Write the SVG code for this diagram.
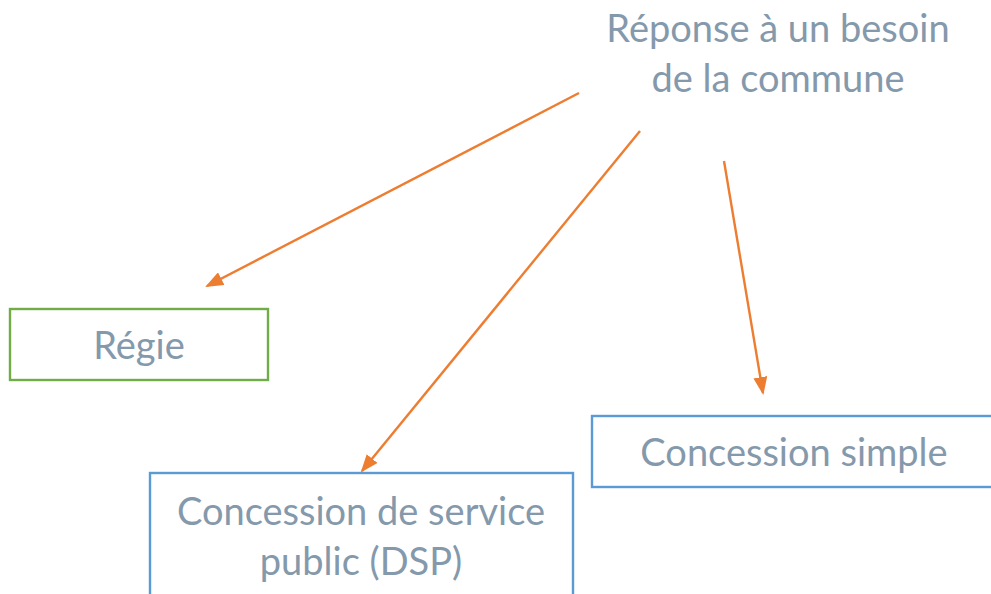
<svg xmlns="http://www.w3.org/2000/svg" width="991" height="594" viewBox="0 0 991 594">
  <style>
    .lbl { font-family: Lato, "Open Sans", "Liberation Sans", sans-serif; font-size: 38px; fill: #8499AB; text-anchor: middle; }
    .box { fill: #FFFFFF; stroke-width: 2.4; }
    .green { stroke: #70AD47; }
    .blue { stroke: #5B9BD5; }
    .link { stroke: #ED7D31; stroke-width: 2.4; fill: none; marker-end: url(#head); }
  </style>
  <defs>
    <marker id="head" viewBox="0 0 18 14" refX="16" refY="7" markerWidth="18" markerHeight="14" markerUnits="userSpaceOnUse" orient="auto">
      <path d="M0,0 L18,7 L0,14 z" fill="#ED7D31"/>
    </marker>
  </defs>
  <rect width="991" height="594" fill="#FFFFFF"/>

  <g id="source">
    <text class="lbl" x="778" y="42">Réponse à un besoin</text>
    <text class="lbl" x="778" y="92">de la commune</text>
  </g>

  <g id="regie">
    <rect class="box green" x="10" y="309" width="258" height="71"/>
    <text class="lbl" x="139" y="359">Régie</text>
  </g>

  <g id="dsp">
    <rect class="box blue" x="150" y="473" width="423" height="130"/>
    <text class="lbl" x="361" y="525">Concession de service</text>
    <text class="lbl" x="361" y="575">public (DSP)</text>
  </g>

  <g id="concession-simple">
    <rect class="box blue" x="592" y="416" width="410" height="71"/>
    <text class="lbl" x="794" y="466">Concession simple</text>
  </g>

  <g id="connectors">
    <line class="link" x1="579" y1="93" x2="207" y2="286"/>
    <line class="link" x1="640" y1="131" x2="362" y2="471"/>
    <line class="link" x1="724" y1="161" x2="763" y2="393"/>
  </g>
</svg>
